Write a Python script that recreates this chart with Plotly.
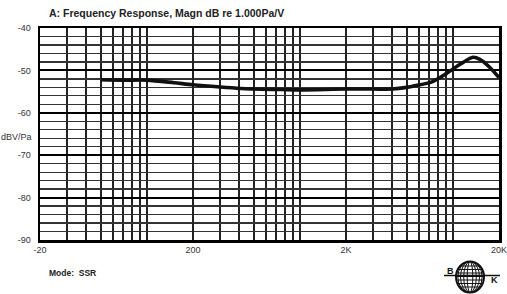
import math
import plotly.graph_objects as go

# ---- data ----
freq_hz = [50, 70, 100, 150, 200, 300, 500, 750, 1000, 2000, 3000, 4000,
           5000, 5500, 7300, 9100, 11200, 13500, 15000, 17300, 20000]
mag_db = [-52.2, -52.3, -52.3, -52.9, -53.4, -53.9, -54.4, -54.5, -54.6, -54.4, -54.4, -54.4,
          -54.0, -53.7, -52.7, -50.7, -48.5, -46.9, -47.4, -49.2, -51.7]

x_tick_vals = [20, 200, 2000, 20000]
x_tick_text = ["-20", "200", "2K", "20K"]
x_grid_vals = [20, 30, 40, 50, 60, 70, 80, 90, 100,
               200, 300, 400, 500, 600, 700, 800, 900, 1000,
               2000, 3000, 4000, 5000, 6000, 7000, 8000, 9000, 10000, 20000]
y_tick_vals = [-40, -50, -60, -70, -80, -90]
y_tick_text = ["-40", "-50", "-60", "-70", "-80", "-90"]

W, H = 507, 294
ML, MR, MT, MB = 40, 8, 28, 54
PW, PH = W - ML - MR, H - MT - MB

def px(x):
    return (x - ML) / PW

def py(y):
    return (MT + PH - y) / PH

FONT = "Liberation Sans Narrow, Liberation Sans, Arial, sans-serif"
BFONT = "Liberation Sans, Arial, sans-serif"

fig = go.Figure()
fig.add_trace(go.Scatter(
    x=freq_hz, y=mag_db, mode="lines",
    line=dict(color="#111111", width=3.6, shape="spline", smoothing=0.8),
    hoverinfo="skip", showlegend=False))

fig.update_xaxes(
    type="log", range=[math.log10(20), math.log10(20000)],
    tickmode="array", tickvals=x_tick_vals, ticktext=x_tick_text,
    showgrid=True, gridcolor="#222222", gridwidth=1.5,
    minor=dict(tickmode="array", tickvals=x_grid_vals, showgrid=True,
               gridcolor="#222222", gridwidth=1.5, ticks=""),
    showline=True, mirror=True, linecolor="#000000", linewidth=2.5,
    ticks="", zeroline=False, ticklabeloverflow="allow", automargin=False,
    tickfont=dict(family=FONT, size=9, color="#333333"),
)
fig.update_yaxes(
    range=[-90, -40], tickmode="array", tickvals=y_tick_vals, ticktext=y_tick_text,
    showgrid=True, gridcolor="#000000", gridwidth=2,
    minor=dict(dtick=2, tick0=-90, showgrid=True, gridcolor="#333333", gridwidth=1.3, ticks=""),
    showline=True, mirror=True, linecolor="#000000", linewidth=2.5,
    ticks="", zeroline=False, ticklabelstandoff=5, automargin=False,
    tickfont=dict(family=FONT, size=9, color="#333333"),
)

annotations = [
    dict(text="<b>A: Frequency Response, Magn dB re 1.000Pa/V</b>", x=px(47), y=py(13),
         xref="paper", yref="paper", xanchor="left", yanchor="middle", showarrow=False,
         font=dict(family=BFONT, size=10.5, color="#222222")),
    dict(text="<b>Mode:  SSR</b>", x=px(47), y=py(273),
         xref="paper", yref="paper", xanchor="left", yanchor="middle", showarrow=False,
         font=dict(family=BFONT, size=8.5, color="#222222")),
    dict(text="dBV/Pa", x=px(34), y=py(137),
         xref="paper", yref="paper", xanchor="right", yanchor="middle", showarrow=False,
         font=dict(family=FONT, size=9, color="#333333")),
    dict(text="<b>B</b>", x=px(450), y=py(271), xref="paper", yref="paper",
         xanchor="center", yanchor="middle", showarrow=False,
         font=dict(family=BFONT, size=9, color="#111111")),
    dict(text="<b>K</b>", x=px(494), y=py(280), xref="paper", yref="paper",
         xanchor="center", yanchor="middle", showarrow=False,
         font=dict(family=BFONT, size=9, color="#111111")),
]

# ---- logo (decoration) ----
cx, cy, rx, ry = 470, 277, 14, 15.5
shapes = []
shapes.append(dict(type="circle", xref="paper", yref="paper",
                   x0=px(cx - rx), x1=px(cx + rx), y0=py(cy + ry), y1=py(cy - ry),
                   line=dict(color="#111111", width=2)))
for f in [0.2, 0.45, 0.68, 0.87]:
    shapes.append(dict(type="circle", xref="paper", yref="paper",
                       x0=px(cx - rx * f), x1=px(cx + rx * f), y0=py(cy + ry), y1=py(cy - ry),
                       line=dict(color="#111111", width=1)))
for dy in [-11, -7.5, -4, -0.5, 3, 6.5, 10]:
    half = rx * math.sqrt(max(0.0, 1 - (dy / ry) ** 2))
    shapes.append(dict(type="line", xref="paper", yref="paper",
                       x0=px(cx - half), x1=px(cx + half), y0=py(cy + dy), y1=py(cy + dy),
                       line=dict(color="#111111", width=1)))
shapes.append(dict(type="line", xref="paper", yref="paper",
                   x0=px(444), x1=px(500), y0=py(275.5), y1=py(275.5),
                   line=dict(color="#111111", width=1.5)))

fig.update_layout(
    width=W, height=H,
    margin=dict(l=ML, r=MR, t=MT, b=MB, autoexpand=False),
    paper_bgcolor="white", plot_bgcolor="white",
    annotations=annotations, shapes=shapes,
    showlegend=False, hovermode=False,
)

fig.write_html("out.html", config={"displayModeBar": False, "staticPlot": True},
               post_script="document.body.style.margin='0';document.body.style.padding='0';")
